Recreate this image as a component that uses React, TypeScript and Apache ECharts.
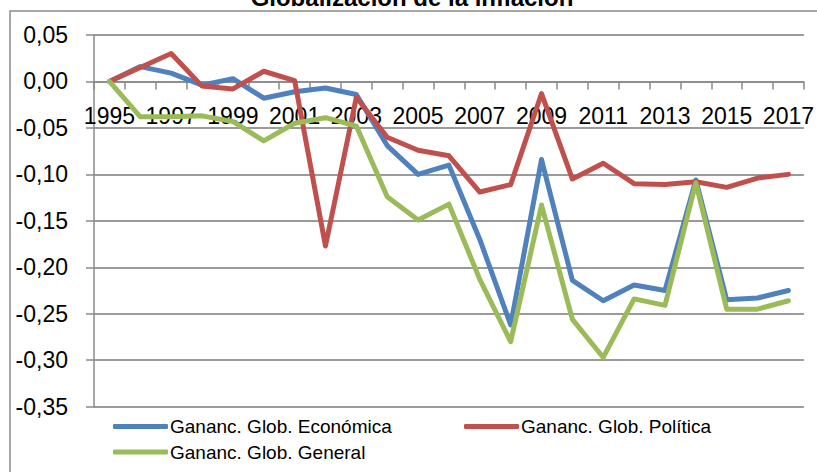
import React, { useEffect, useRef } from "react";
import * as echarts from "echarts";

const years = ["1995","1996","1997","1998","1999","2000","2001","2002","2003","2004","2005","2006","2007","2008","2009","2010","2011","2012","2013","2014","2015","2016","2017"];
const economica = [0.0, 0.016, 0.009, -0.004, 0.003, -0.018, -0.011, -0.007, -0.014, -0.069, -0.100, -0.090, -0.170, -0.262, -0.084, -0.214, -0.236, -0.219, -0.225, -0.106, -0.235, -0.233, -0.225];
const politica = [0.0, 0.015, 0.030, -0.005, -0.008, 0.011, 0.001, -0.177, -0.017, -0.060, -0.074, -0.080, -0.119, -0.111, -0.013, -0.105, -0.088, -0.110, -0.111, -0.108, -0.114, -0.104, -0.100];
const general = [0.0, -0.038, -0.038, -0.037, -0.043, -0.064, -0.045, -0.039, -0.048, -0.124, -0.149, -0.132, -0.213, -0.280, -0.133, -0.256, -0.297, -0.234, -0.241, -0.109, -0.245, -0.245, -0.236];
const seriesNames = ["Gananc. Glob. Económica", "Gananc. Glob. Política", "Gananc. Glob. General"];
const colors = ["#4F81BD", "#C0504D", "#9BBB59"];
const title = "Globalización de la inflación";

const FONT = "'Liberation Sans', Arial, sans-serif";

const GRID_TOP = 35;
const GRID_BOTTOM_Y = 406.7;
const Y_MIN = -0.35;
const Y_MAX = 0.05;

export default function App() {
  const ref = useRef<HTMLDivElement>(null);
  useEffect(() => {
    if (!ref.current) return;
    const chart = echarts.init(ref.current, undefined, { renderer: "svg" });
    // distance from the bottom of the grid to the zero line, so the category axis sits on y = 0
    const zeroOffset = ((0 - Y_MIN) / (Y_MAX - Y_MIN)) * (GRID_BOTTOM_Y - GRID_TOP);
    const legendBase = {
      orient: "horizontal",
      icon: "roundRect",
      itemWidth: 55,
      itemHeight: 5,
      itemGap: 0,
      padding: 0,
      textStyle: { color: "#000", fontSize: 19, fontFamily: FONT, padding: [0, 0, 0, -3] },
    };
    chart.setOption({
      animation: false,
      backgroundColor: "#fff",
      color: colors,
      graphic: [
        {
          type: "rect",
          silent: true,
          shape: { x: 10, y: 11, width: 900, height: 600 },
          style: { fill: "none", stroke: "#8a8a8a", lineWidth: 1.5 },
        },
        {
          type: "text",
          silent: true,
          style: {
            text: title,
            x: 412,
            y: -3,
            align: "center",
            verticalAlign: "middle",
            font: "bold 24px " + FONT,
            fill: "#000",
          },
        },
      ],
      grid: { left: 94, right: 12, top: GRID_TOP, bottom: 472 - GRID_BOTTOM_Y, containLabel: false },
      legend: [
        { ...legendBase, left: 113, top: 417, data: [seriesNames[0]] },
        { ...legendBase, left: 464, top: 417, data: [seriesNames[1]] },
        { ...legendBase, left: 113, top: 442.5, data: [seriesNames[2]] },
      ],
      xAxis: {
        type: "category",
        data: years,
        boundaryGap: true,
        position: "bottom",
        offset: -zeroOffset,
        axisLine: { onZero: false, lineStyle: { color: "#8a8a8a", width: 1.5 } },
        axisTick: { show: true, interval: 0, length: 8, inside: false, alignWithLabel: false, lineStyle: { color: "#8a8a8a", width: 1.5 } },
        axisLabel: { interval: 1, color: "#000", fontSize: 23, fontFamily: FONT, margin: 23 },
        splitLine: { show: false },
      },
      yAxis: {
        type: "value",
        min: Y_MIN,
        max: Y_MAX,
        interval: 0.05,
        axisLine: { show: true, lineStyle: { color: "#8a8a8a", width: 1.5 } },
        axisTick: { show: true, length: 8, lineStyle: { color: "#8a8a8a", width: 1.5 } },
        axisLabel: {
          color: "#000",
          fontSize: 23,
          fontFamily: FONT,
          margin: 26,
          formatter: (v: number) => (Math.abs(v) < 1e-9 ? "0,00" : v.toFixed(2).replace(".", ",")),
        },
        splitLine: { show: true, lineStyle: { color: "#9a9a9a", width: 2 } },
      },
      series: [economica, politica, general].map((d, i) => ({
        name: seriesNames[i],
        type: "line",
        data: d,
        symbol: "none",
        showSymbol: false,
        lineStyle: { width: 5, color: colors[i], join: "round", cap: "round" },
        itemStyle: { color: colors[i] },
      })),
    });
    return () => chart.dispose();
  }, []);
  return <div ref={ref} style={{ position: "fixed", left: 0, top: 0, width: 817, height: 472 }} />;
}
